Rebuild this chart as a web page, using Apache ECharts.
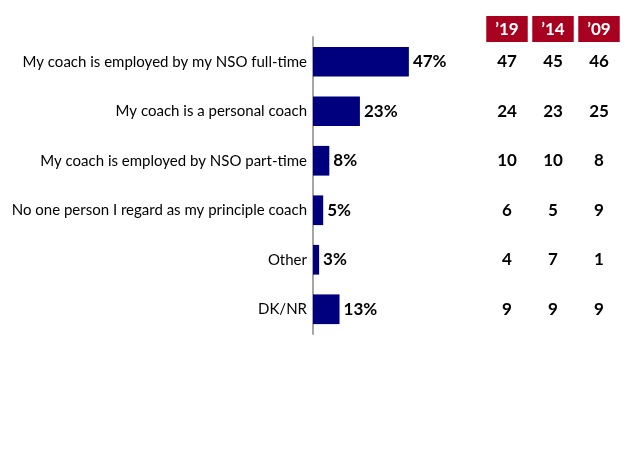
<!DOCTYPE html>
<html><head><meta charset="utf-8">
<script src="https://cdn.jsdelivr.net/npm/echarts@6/dist/echarts.min.js"></script>
<style>html,body{margin:0;padding:0;background:#fff}#c{width:624px;height:468px}</style>
</head><body><div id="c"></div>
<script>
const categories = [
  "My coach is employed by my NSO full-time",
  "My coach is a personal coach",
  "My coach is employed by NSO part-time",
  "No one person I regard as my principle coach",
  "Other",
  "DK/NR"
];
const current = [47, 23, 8, 5, 3, 13];
const years = ["\u201919", "\u201914", "\u201909"];
const y2019 = [47, 24, 10, 6, 4, 9];
const y2014 = [45, 23, 10, 5, 7, 9];
const y2009 = [46, 25, 8, 9, 1, 9];

const tableCols = [y2019, y2014, y2009];
const tableData = [];
tableCols.forEach((col, xi) => col.forEach((v, yi) => tableData.push([xi, yi, v])));

const FONT = "Lato";
const chart = echarts.init(document.getElementById('c'));
chart.setOption({
  animation: false,
  textStyle: { fontFamily: FONT },
  grid: [
    { left: 313, top: 37, width: 204, height: 297 },
    { left: 484, top: 37, width: 138, height: 297 }
  ],
  xAxis: [
    { gridIndex: 0, type: 'value', min: 0, max: 100, show: false },
    { gridIndex: 1, type: 'category', data: years, position: 'top',
      axisLine: { show: false }, axisTick: { show: false }, splitLine: { show: false },
      axisLabel: { color: '#fff', fontWeight: 'bold', fontSize: 17, fontFamily: FONT,
        backgroundColor: '#A8001F', padding: [5, 9, 4, 9], margin: -5 } }
  ],
  yAxis: [
    { gridIndex: 0, type: 'category', data: categories, inverse: true,
      axisLine: { lineStyle: { color: '#A6A6A6', width: 2 } }, axisTick: { show: false },
      axisLabel: { color: '#000', fontSize: 15, margin: 6, fontFamily: FONT } },
    { gridIndex: 1, type: 'category', data: categories, inverse: true, show: false }
  ],
  series: [
    { type: 'bar', xAxisIndex: 0, yAxisIndex: 0, data: current, barCategoryGap: '40%',
      itemStyle: { color: '#00007F' },
      label: { show: true, position: 'right', distance: 4, formatter: '{c}%',
        color: '#000', fontWeight: 'bold', fontSize: 17, fontFamily: FONT } },
    { type: 'scatter', xAxisIndex: 1, yAxisIndex: 1, data: tableData, symbolSize: 0,
      itemStyle: { color: '#fff', opacity: 1 },
      label: { show: true, position: 'inside', formatter: p => p.value[2],
        color: '#000', opacity: 1, fontWeight: 'bold', fontSize: 17, fontFamily: FONT } }
  ]
});
</script></body></html>
